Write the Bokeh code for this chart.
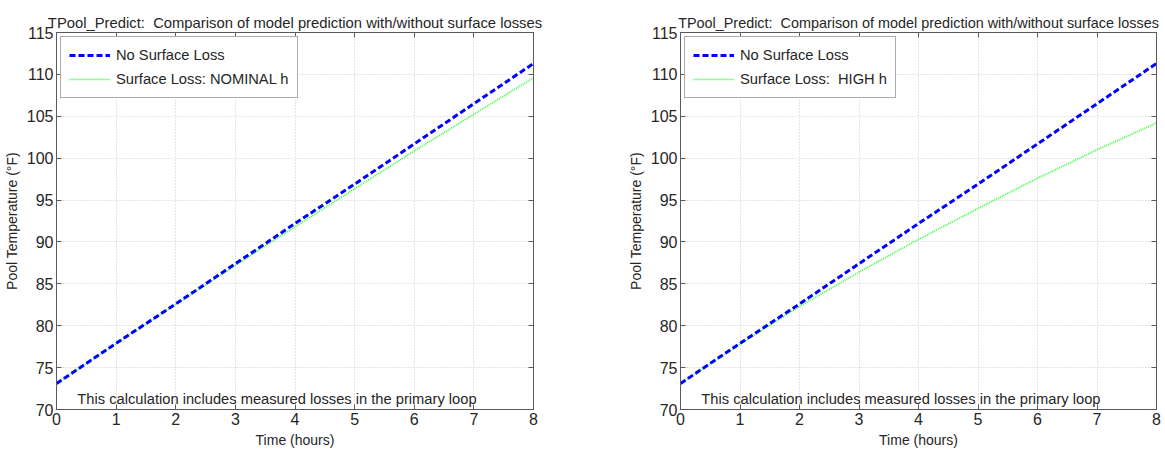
from bokeh.plotting import figure
from bokeh.models import Legend, LegendItem, LinearAxis, FixedTicker, Range1d, Label, CustomJSTickFormatter
from bokeh.layouts import row
from bokeh.embed import file_html
from bokeh.resources import INLINE

# ---- data ----
time_h = [0, 1, 2, 3, 4, 5, 6, 7, 8]
no_surface_loss = [73.1, 77.9, 82.6, 87.4, 92.2, 96.9, 101.7, 106.5, 111.3]
loss_nominal_h = [73.1, 77.85, 82.55, 87.2, 91.8, 96.35, 100.85, 105.25, 109.6]
loss_high_h = [73.1, 77.8, 82.3, 86.4, 90.3, 94.0, 97.6, 101.0, 104.2]

x_ticks = [0, 1, 2, 3, 4, 5, 6, 7, 8]
y_ticks = [70, 75, 80, 85, 90, 95, 100, 105, 110, 115]

title_text = "TPool_Predict:\u00a0 Comparison of model prediction with/without surface losses"
note_text = "This calculation includes measured losses in the primary loop"
labels_left = ["No Surface Loss", "Surface Loss: NOMINAL h"]
labels_right = ["No Surface Loss", "Surface Loss:\u00a0 HIGH h"]

FONT = "Liberation Sans"
TXT = "#262626"
AX = "#5a5a5a"


def make_panel(loss_series, labels, bl, br, fw, title_size):
    p = figure(frame_width=fw, frame_height=377, output_backend="svg",
               toolbar_location=None, x_range=Range1d(0, 8), y_range=Range1d(70, 115),
               min_border_left=bl, min_border_right=br, min_border_top=32,
               min_border_bottom=40, background_fill_color="white",
               border_fill_color="white")
    p.title.text = title_text
    p.title.align = "center"
    p.title.text_font = FONT
    p.title.text_font_size = title_size
    p.title.text_font_style = "normal"
    p.title.text_color = TXT
    p.title.standoff = 4
    p.title.offset = 0

    p.outline_line_color = AX
    p.outline_line_width = 1

    for ax in (p.xaxis[0], p.yaxis[0]):
        ax.major_label_text_font = FONT
        ax.major_label_text_font_size = "16px"
        ax.major_label_text_color = TXT
        ax.axis_label_text_font = FONT
        ax.axis_label_text_font_size = "14px"
        ax.axis_label_text_font_style = "normal"
        ax.axis_label_text_color = TXT
        ax.axis_line_color = AX
        ax.major_tick_line_color = AX
        ax.major_tick_in = 5
        ax.major_tick_out = 0
        ax.minor_tick_line_color = None
    p.xaxis.ticker = FixedTicker(ticks=x_ticks)
    p.yaxis.ticker = FixedTicker(ticks=y_ticks)
    p.xaxis.axis_label = "Time (hours)"
    p.yaxis.axis_label = "Pool Temperature (°F)"
    p.xaxis.major_label_standoff = 3
    p.xaxis.axis_label_standoff = 4
    p.yaxis.major_label_standoff = 3
    p.yaxis.axis_label_standoff = 4

    blank = CustomJSTickFormatter(code="return ''")
    top = LinearAxis(ticker=FixedTicker(ticks=x_ticks), formatter=blank,
                     major_tick_in=5, major_tick_out=0, major_label_standoff=0,
                     major_label_text_font_size="1px", axis_line_color=AX,
                     major_tick_line_color=AX, minor_tick_line_color=None)
    right = LinearAxis(ticker=FixedTicker(ticks=y_ticks), formatter=blank,
                       major_tick_in=5, major_tick_out=0, major_label_standoff=0,
                       major_label_text_font_size="1px", axis_line_color=AX,
                       major_tick_line_color=AX, minor_tick_line_color=None)
    p.add_layout(top, "above")
    p.add_layout(right, "right")

    for g in (p.xgrid[0], p.ygrid[0]):
        g.grid_line_color = "#c8c8c8"
        g.grid_line_dash = "1 2"
        g.grid_line_width = 1

    r_green = p.line(time_h, loss_series, line_color="#22ff22", line_width=1.5,
                     line_dash="1 1")
    r_blue = p.line(time_h, no_surface_loss, line_color="#0000ff", line_width=3,
                    line_dash="6 3")

    note = Label(x=0.35, y=71.3, text=note_text, text_font=FONT,
                 text_font_size="14.7px", text_color=TXT, text_baseline="middle")
    p.add_layout(note)

    leg = Legend(items=[LegendItem(label=labels[0], renderers=[r_blue]),
                        LegendItem(label=labels[1], renderers=[r_green])],
                 location="top_left", margin=4, padding=8, spacing=4,
                 glyph_width=41, glyph_height=20, label_height=20,
                 label_standoff=6, label_text_font=FONT, label_text_font_size="14.7px",
                 label_text_color=TXT, border_line_color=AX, border_line_width=1,
                 background_fill_alpha=1.0)
    p.add_layout(leg)
    return p


p1 = make_panel(loss_nominal_h, labels_left, 49, 74, 477, "14.8px")
p2 = make_panel(loss_high_h, labels_right, 73, 7, 476, "14.4px")

layout = row(p1, p2)
open("out.html", "w").write(file_html(layout, INLINE))
